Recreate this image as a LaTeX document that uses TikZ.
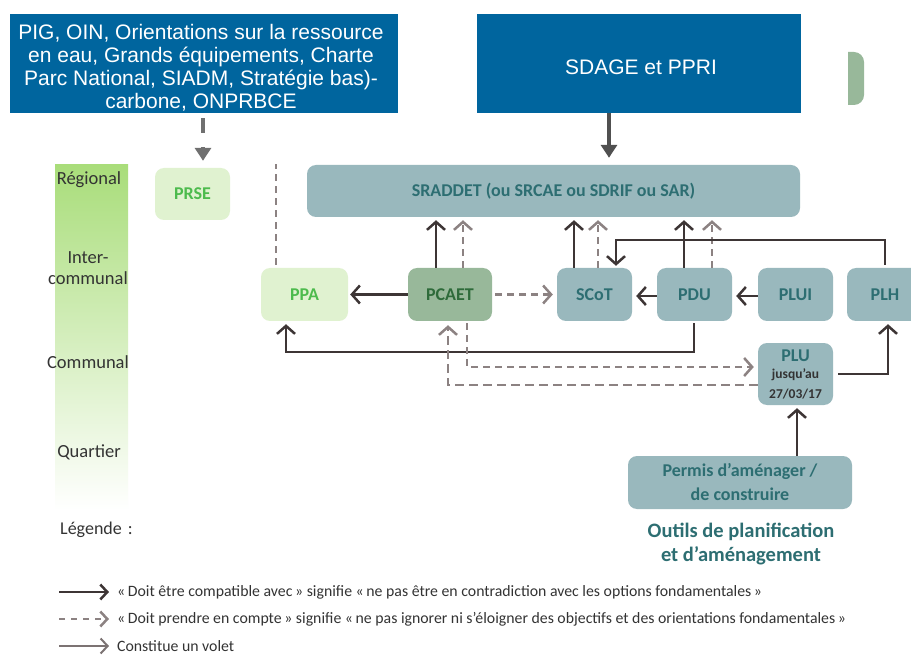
\documentclass[tikz,border=0pt]{standalone}
\usepackage{fontspec}
\setmainfont{Carlito}
\newfontfamily\arialf{Liberation Sans}
\usetikzlibrary{arrows.meta}
\definecolor{blueb}{HTML}{00659E}
\definecolor{tealfill}{HTML}{99B8BD}
\definecolor{tealtext}{HTML}{2D6E72}
\definecolor{lgfill}{HTML}{E0F2D0}
\definecolor{lgtext}{HTML}{4DBB4D}
\definecolor{pcfill}{HTML}{98B89A}
\definecolor{pctext}{HTML}{2E6B3A}
\definecolor{darkar}{HTML}{3D3535}
\definecolor{dashar}{HTML}{8C8282}
\definecolor{scalegreen}{HTML}{A9DD7A}
\definecolor{scalemid}{HTML}{CBEAAE}
\definecolor{txtdark}{HTML}{333333}
\definecolor{topgray}{HTML}{707070}
\definecolor{topdark}{HTML}{505050}
\begin{document}
\begin{tikzpicture}[x=1pt,y=-1pt,
  topbox/.style={fill=blueb,inner sep=0pt},
  toptxt/.style={text=white,inner sep=0pt,align=center,font=\arialf\fontsize{21}{23}\selectfont},
  tbox/.style={fill=tealfill,text=tealtext,rounded corners=9pt,inner sep=0pt,align=center,font=\bfseries\fontsize{18}{20}\selectfont},
  gbox/.style={tbox,fill=lgfill,text=lgtext},
  pbox/.style={tbox,fill=pcfill,text=pctext},
  solidar/.style={draw=darkar,line width=2.5pt,-{Straight Barb[length=8pt,width=18pt]}},
  dashedar/.style={draw=dashar,line width=2.5pt,dash pattern=on 7pt off 5pt,-{Straight Barb[length=8pt,width=18pt]}},
  voletar/.style={draw=dashar!80!darkar,line width=2pt,-{Straight Barb[length=7pt,width=15pt]}},
  scalelab/.style={text=txtdark,font=\fontsize{18.5}{20}\selectfont,inner sep=0pt},
  legtxt/.style={text=txtdark,font=\fontsize{15.8}{17}\selectfont,anchor=west,inner sep=0pt}
]
\useasboundingbox (0,0) rectangle (911,655);
\fill[white] (0,0) rectangle (911,655);

% top boxes
\node[topbox,minimum width=388pt,minimum height=99pt] (topl) at (204,63.5) {};
\node[toptxt] (topltxt) at (201,68)
  {PIG, OIN, Orientations sur la ressource\\en eau, Grands équipements, Charte\\Parc National, SIADM, Stratégie bas)-\\carbone, ONPRBCE};
\node[topbox,minimum width=324pt,minimum height=99pt] (sdage) at (639,63.5) {};
\node[toptxt] (sdagetxt) at (641,67) {SDAGE et PPRI};
\fill[pcfill] (848,52) [rounded corners=10pt] -- (864,52) -- (864,105) [sharp corners] -- (848,105) -- cycle;

% scale bar
\shade[top color=scalegreen,middle color=scalemid,bottom color=white] (55,165) rectangle (128,510);
\node[scalelab] (reg) at (89,180) {Régional};
\node[scalelab,align=center,font=\fontsize{18.5}{21}\selectfont] (inter) at (88,268) {Inter-\\communal};
\node[scalelab] (comm) at (88,362) {Communal};
\node[scalelab] (quart) at (89,452) {Quartier};

% boxes
\node[gbox,minimum width=75pt,minimum height=52pt] (prse) at (192.5,194) {PRSE};
\node[tbox,minimum width=493pt,minimum height=52pt] (sraddet) at (553.5,191) {SRADDET (ou SRCAE ou SDRIF ou SAR)};
\node[gbox,minimum width=87pt,minimum height=53pt] (ppa) at (304.5,294.5) {PPA};
\node[pbox,minimum width=84pt,minimum height=53pt] (pcaet) at (450,294.5) {PCAET};
\node[tbox,minimum width=75pt,minimum height=53pt] (scot) at (594.5,294.5) {SCoT};
\node[tbox,minimum width=75pt,minimum height=53pt] (pdu) at (694.5,294.5) {PDU};
\node[tbox,minimum width=75pt,minimum height=53pt] (plui) at (795.5,294.5) {PLUI};
\node[tbox,minimum width=76pt,minimum height=53pt] (plh) at (885,294.5) {PLH};
\node[tbox,minimum width=75pt,minimum height=62pt] (plu) at (795.5,374)
  {PLU\\[-3pt]\color{txtdark}\fontsize{13.5}{15}\selectfont jusqu’au\\\color{txtdark}\fontsize{13.5}{15}\selectfont 27/03/17};
\node[tbox,minimum width=224pt,minimum height=53pt,font=\bfseries\fontsize{18}{24}\selectfont] (permis) at (740,482.5)
  {Permis d’aménager /\\de construire};
\node[text=tealtext,font=\bfseries\fontsize{20.5}{24}\selectfont,align=center,inner sep=0pt] (outils) at (741,544)
  {Outils de planification\\et d’aménagement};

% top arrows
\draw[topgray,line width=4pt,dash pattern=on 15pt off 14pt,shorten <=5pt,shorten >=7pt,-{Triangle[length=13pt,width=16pt]}]
  ([xshift=-1pt]topl.south) -- ([xshift=-1pt]topl.south |- prse.north);
\draw[topdark,line width=4pt,shorten >=7pt,-{Triangle[length=13pt,width=16pt]}]
  ([xshift=-30pt]sdage.south) -- ([xshift=-30pt]sdage.south |- sraddet.north);

% dashed vertical line above PPA
\coordinate (ppatop) at (276,164);
\draw[dashar,line width=2.5pt,dash pattern=on 7pt off 5pt] ([xshift=-28.5pt,yshift=3pt]ppa.north) -- (ppatop);

% horizontal arrows
\draw[solidar,shorten >=2pt] (pcaet.west) -- (ppa.east);
\draw[dashedar,shorten <=3pt,shorten >=4pt] (pcaet.east) -- (scot.west);
\draw[solidar,shorten >=4pt] ([yshift=-1.5pt]pdu.west) -- ([yshift=-1.5pt]scot.east);
\draw[solidar,shorten >=4pt] ([yshift=-1.5pt]plui.west) -- ([yshift=-1.5pt]pdu.east);

% vertical up arrows
\draw[solidar,shorten >=3pt] ([xshift=-14pt]pcaet.north) -- ([xshift=-14pt]pcaet.north |- sraddet.south);
\draw[dashedar,shorten >=3pt] ([xshift=13pt]pcaet.north) -- ([xshift=13pt]pcaet.north |- sraddet.south);
\draw[solidar,shorten >=3pt] ([xshift=-20.5pt]scot.north) -- ([xshift=-20.5pt]scot.north |- sraddet.south);
\draw[dashedar,shorten >=3pt] ([xshift=3.5pt]scot.north) -- ([xshift=3.5pt]scot.north |- sraddet.south);
\draw[solidar,shorten >=3pt] ([xshift=-10.5pt]pdu.north) -- ([xshift=-10.5pt]pdu.north |- sraddet.south);
\draw[dashedar,shorten >=3pt] ([xshift=17.5pt]pdu.north) -- ([xshift=17.5pt]pdu.north |- sraddet.south);

% elbow connectors
\draw[solidar,shorten >=2pt] ([yshift=3pt]plh.north) -- ++(0,-25) -| ([xshift=21.5pt]scot.north);
\draw[solidar,shorten >=3pt] ([xshift=-0.5pt,yshift=-2pt]pdu.south) -- ++(0,29) -| ([xshift=-18.5pt]ppa.south);
\draw[dashedar,shorten >=4pt] ([xshift=17pt,yshift=-2pt]pcaet.south) |- ([yshift=7pt]plu.west);
\draw[dashedar,dash pattern=on 9pt off 5pt,shorten >=4pt] ([yshift=-11pt]plu.west) -| ([xshift=-2pt]pcaet.south);
\draw[solidar,shorten >=3pt] ([xshift=5pt]plu.east) -| ([xshift=3pt]plh.south);
\draw[solidar,shorten >=3pt] ([xshift=57pt]permis.north) -- ([xshift=57pt]permis.north |- plu.south);

% legend
\node[text=txtdark,font=\fontsize{18}{19}\selectfont,anchor=west,inner sep=0pt] (leg) at (60,530) {Légende\,\,:};
\coordinate (l1a) at (59,592); \coordinate (l1b) at (109,592);
\coordinate (l2a) at (59,619); \coordinate (l2b) at (109,619);
\coordinate (l3a) at (59,646); \coordinate (l3b) at (109,646);
\draw[solidar,-{Straight Barb[length=7pt,width=15pt]}] (l1a) -- (l1b);
\draw[dashedar,dash pattern=on 6pt off 6pt,-{Straight Barb[length=7pt,width=15pt]}] (l2a) -- (l2b);
\draw[voletar] (l3a) -- (l3b);
\node[legtxt] (t1) at (117,592) {«\,Doit être compatible avec\,» signifie «\,ne pas être en contradiction avec les options fondamentales\,»};
\node[legtxt] (t2) at (117,619) {«\,Doit prendre en compte\,» signifie «\,ne pas ignorer ni s’éloigner des objectifs et des orientations fondamentales\,»};
\node[legtxt] (t3) at (117,646) {Constitue un volet};
\end{tikzpicture}
\end{document}
